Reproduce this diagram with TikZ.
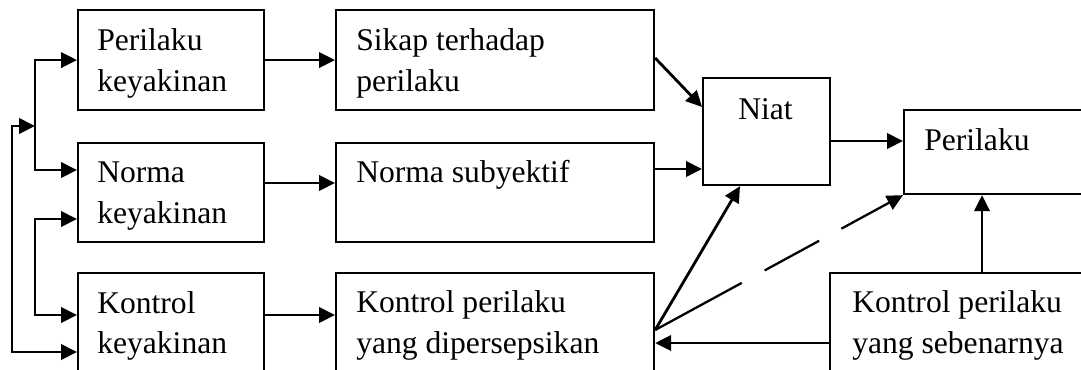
\documentclass[tikz,border=0pt]{standalone}
\usepackage{fontspec}
\setmainfont{Liberation Serif}
\usetikzlibrary{arrows.meta}
\begin{document}
\begin{tikzpicture}[x=0.75pt,y=-0.75pt,
  box/.style={draw,line width=1.6pt,inner sep=0pt,anchor=north west},
  txt/.style={inner sep=0pt,anchor=base west,font=\fontsize{23.7}{30}\selectfont},
  arr/.style={line width=2.1pt,-{Triangle[length=12pt,width=11.5pt]}},
  both/.style={line width=2.1pt,{Triangle[length=12pt,width=11.5pt]}-{Triangle[length=12pt,width=11.5pt]}},
  gapline/.style={line width=1.7pt,dash pattern=on 74pt off 19.5pt on 46.5pt off 19pt on 60pt,-{Triangle[length=12pt,width=11.5pt]}}]
\useasboundingbox (0,0) rectangle (1081,369);
\clip (0,0) rectangle (1081,369);

% boxes
\node[box,minimum width=186pt*0.75,minimum height=100pt*0.75] (A) at (77,9) {};
\node[box,minimum width=186pt*0.75,minimum height=99pt*0.75] (B) at (77,142) {};
\node[box,minimum width=186pt*0.75,minimum height=120pt*0.75] (C) at (77,272) {};
\node[box,minimum width=318pt*0.75,minimum height=100pt*0.75] (D) at (335,9) {};
\node[box,minimum width=318pt*0.75,minimum height=99pt*0.75] (E) at (335,142) {};
\node[box,minimum width=318pt*0.75,minimum height=120pt*0.75] (F) at (335,272) {};
\node[box,minimum width=127pt*0.75,minimum height=107pt*0.75] (N) at (702,77) {};
\node[box,minimum width=200pt*0.75,minimum height=84pt*0.75] (P) at (903,109) {};
\node[box,minimum width=260pt*0.75,minimum height=120pt*0.75] (G) at (829,272) {};

% labels
\node[txt] (a1) at (97,50) {Perilaku};
\node[txt] (a2) at (97,91) {keyakinan};
\node[txt] (b1) at (97,182) {Norma};
\node[txt] (b2) at (97,223) {keyakinan};
\node[txt] (c1) at (97,313) {Kontrol};
\node[txt] (c2) at (97,353) {keyakinan};
\node[txt] (d1) at (356,50) {Sikap terhadap};
\node[txt] (d2) at (356,91) {perilaku};
\node[txt] (e1) at (356,182) {Norma subyektif};
\node[txt] (f1) at (356,312) {Kontrol perilaku};
\node[txt] (f2) at (356,353) {yang dipersepsikan};
\node[txt] (n1) at (738,119) {Niat};
\node[txt] (p1) at (924,150) {Perilaku};
\node[txt] (g1) at (852,312) {Kontrol perilaku};
\node[txt] (g2) at (852,353) {yang sebenarnya};

% branch points and connector levels
\coordinate (tm) at (35,126);
\coordinate (t2) at (35,170);
\coordinate (q1) at (35,219);
\coordinate (q2) at (35,315);
\coordinate (o1) at (12,126);
\coordinate (o2) at (12,352);
\coordinate (lvB) at (0,183);
\coordinate (lvD) at (0,107);
\coordinate (lvE) at (0,169);
\coordinate (lvN) at (0,141);
\coordinate (lvF) at (0,330);
\coordinate (lvG) at (0,343);
\coordinate (xN) at (740,0);
\coordinate (xG) at (982,0);

% beliefs feeding the three belief boxes
\draw[arr] (tm) |- (A.west);
\draw[arr] (tm) |- (B.west |- t2);
\draw[both] (B.west |- q1) -- (q1) -- (q2) -- (C.west |- q2);
\draw[both] (tm) -- (o1) -- (o2) -- (C.west |- o2);

% beliefs to attitudes
\draw[arr] (A.east) -- (D.west);
\draw[arr] (B.east |- lvB) -- (E.west |- lvB);
\draw[arr] (C.east |- q2) -- (F.west |- q2);

% attitudes to intention and behaviour
\draw[arr] (D.east |- 0,58) -- (N.west |- lvD);
\draw[arr] (E.east |- lvE) -- (N.west |- lvE);
\draw[arr] (N.east |- lvN) -- (P.west |- lvN);
\draw[arr] (F.east |- lvF) -- (N.south -| xN);
\draw[gapline] (F.east |- lvF) -- (P.south west);
\draw[arr] (G.west |- lvG) -- (F.east |- lvG);
\draw[arr] (G.north -| xG) -- (P.south -| xG);
\end{tikzpicture}
\end{document}
